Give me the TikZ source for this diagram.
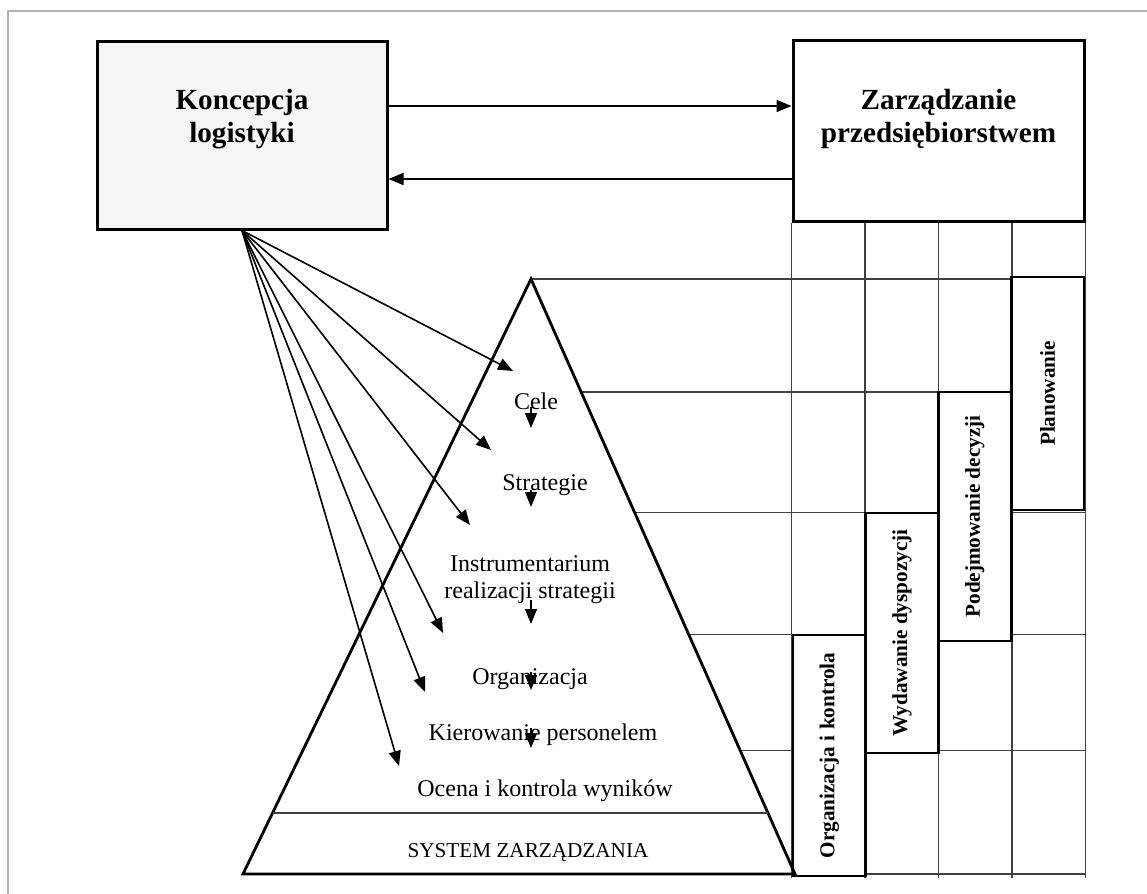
\documentclass[tikz,border=0pt]{standalone}
\usepackage{fontspec}
\setmainfont{Liberation Serif}
\usetikzlibrary{arrows.meta,calc}

\tikzset{
  blok/.style={draw, line width=1.5pt, minimum width=145pt, minimum height=90.5pt, inner sep=0pt},
  tytul/.style={font=\bfseries\fontsize{14.6}{16.5}\selectfont, align=center, inner sep=0pt},
  etap/.style={font=\fontsize{12}{13.5}\selectfont, align=center, inner sep=0pt},
  funkcja/.style={draw, line width=1.4pt, fill=white, rotate=90, minimum height=36.4pt,
    inner sep=0pt, font=\bfseries\fontsize{10.6}{12}\selectfont},
  siatka/.style={black!75, line width=0.6pt},
}

\begin{document}
\begin{tikzpicture}[x=0.5pt, y=-0.5pt, line width=0.8pt, >={Triangle[length=7.5pt,width=6pt]}]
\useasboundingbox (0,0) rectangle (1147,894);
\draw[gray!60, line width=0.75pt] (8,894) -- (8,11) -- (1147,11);

% bloki u gory
\node[blok, fill=black!4, minimum height=94pt] (kon) at (242,135) {};
\node[tytul] (kontxt) at (242,119) {Koncepcja\\logistyki};
\node[blok, minimum width=145.5pt] (zar) at (938.5,130.5) {};
\node[tytul] (zartxt) at (938.5,119) {Zarządzanie\\przedsiębiorstwem};

\coordinate (k1) at ([yshift=14.5pt]kon.east);
\coordinate (k2) at ([yshift=-22pt]kon.east);
\draw[->] (k1) -- (k1 -| zar.west);
\draw[->] (k2 -| zar.west) -- (k2);

% siatka funkcji zarzadzania
\coordinate (szczyt) at (531,279);
\coordinate (lewy) at (243,874);
\coordinate (prawy) at (795,874);
\foreach \i in {0,...,4}
  \draw[siatka] ($(zar.south west)!\i/4!(zar.south east)$) -- ++(0,655);
\draw[siatka] (szczyt) -- (szczyt -| zar.east);
\foreach \t in {0.810,0.608,0.402,0.208}{
  \coordinate (h) at ($(prawy)!\t!(szczyt)$);
  \draw[siatka] (h) -- (h -| zar.east);
}
\draw[siatka] (prawy) -- (prawy -| zar.east);

\node[funkcja, minimum width=116.5pt] (plan) at (1047.6,393.5) {Planowanie};
\node[funkcja, minimum width=124.5pt] (decyz) at (974.9,516.5) {Podejmowanie decyzji};
\node[funkcja, minimum width=120pt] (dysp) at (902.1,633) {Wydawanie dyspozycji};
\node[funkcja, minimum width=120.5pt] (kontr) at (829.4,755.5) {Organizacja i kontrola};

% piramida
\draw[line width=1.4pt] (szczyt) -- (lewy) -- (prawy) -- cycle;
\draw[siatka] ($(lewy)!0.1025!(szczyt)$) -- ($(prawy)!0.1025!(szczyt)$);

\node[etap] (cele) at (536,401) {Cele};
\node[etap] (strat) at (545,485) {Strategie};
\node[etap] (instr) at (530,580) {Instrumentarium\\realizacji strategii};
\node[etap] (org) at (530,679) {Organizacja};
\node[etap] (kier) at (543,735) {Kierowanie personelem};
\node[etap] (ocena) at (545,791) {Ocena i kontrola wyników};
\node[etap, font=\fontsize{10.6}{12}\selectfont] (sys) at (528,853) {SYSTEM ZARZĄDZANIA};

\foreach \ya/\yb in {407/428, 490/507, 600/624, 672/690, 728/748}
  \draw[->] (szczyt |- 0,\ya) -- (szczyt |- 0,\yb);

% strzalki z koncepcji
\foreach \x/\y [count=\i] in {513/371, 491/450, 470/525, 443/633, 425/692, 399/766}
  \coordinate (f\i) at (\x,\y);
\foreach \i in {1,...,6}
  \draw[->] (kon.south) -- (f\i);
\end{tikzpicture}
\end{document}
